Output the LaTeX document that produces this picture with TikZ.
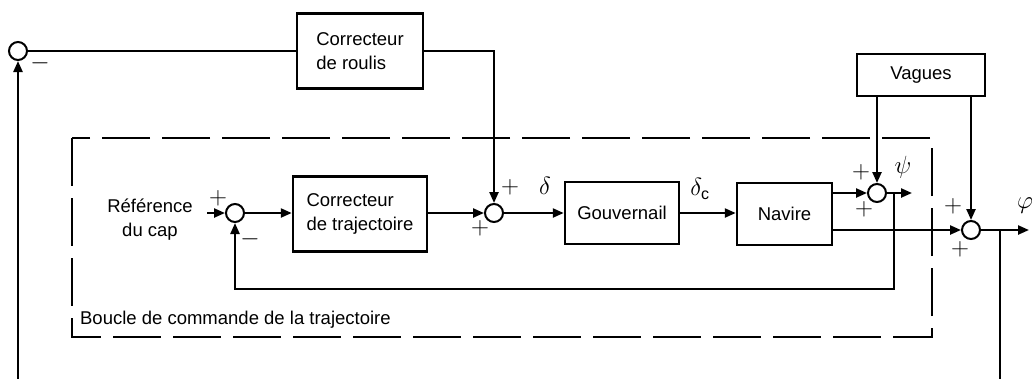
\documentclass[tikz,border=0pt]{standalone}
\usepackage{fontspec}
\setmainfont{Liberation Sans}
\usetikzlibrary{arrows.meta}
\begin{document}
\begin{tikzpicture}[x=1pt,y=-1pt,
  line width=2.3pt,
  >={Triangle[length=11pt,width=9pt]},
  blk/.style={draw, line width=2.5pt, inner sep=0pt, align=left, font=\fontsize{18.5}{24}\selectfont},
  sum/.style={draw, circle, line width=2pt, minimum size=18pt, inner sep=0pt},
  sgn/.style={font=\fontsize{23}{23}\selectfont, inner sep=0pt},
  lbl/.style={font=\fontsize{18.5}{24}\selectfont, inner sep=0pt, align=center},
  greek/.style={font=\fontsize{25}{25}\selectfont, inner sep=0pt},
  loopbox/.style={dash pattern=on 48pt off 12pt, line width=2.5pt}]
\useasboundingbox (0,0) rectangle (1032,378);

% dashed trajectory loop
\draw[loopbox] (72,138) rectangle (932,337);
\node[lbl, anchor=west] (boucle) at (79,320) {Boucle de commande de la trajectoire};

% blocks
\node[blk, minimum width=126pt, minimum height=75pt] (croulis) at (360,51) {Correcteur\\de roulis};
\node[blk, minimum width=134pt, minimum height=75pt] (ctraj) at (360,214) {Correcteur\\de trajectoire};
\node[blk, minimum width=114pt, minimum height=62pt] (gouv) at (622,213) {Gouvernail};
\node[blk, minimum width=95pt, minimum height=62pt] (navire) at (784.5,214) {Navire};
\node[blk, minimum width=128pt, minimum height=42pt] (vagues) at (921,75) {Vagues};

% summing junctions
\node[sum] (s0) at (18,51) {};
\node[sum] (s1) at (235,213) {};
\node[sum] (s2) at (494,213) {};
\node[sum] (s3) at (877,193) {};
\node[sum] (s4) at (971,230) {};

% signs
\node[sgn] (m0) at (40,63) {$-$};
\node[sgn] (p1) at (218,198) {$+$};
\node[sgn] (m1) at (250,239) {$-$};
\node[sgn] (p2a) at (510,187) {$+$};
\node[sgn] (p2b) at (480,228) {$+$};
\node[sgn] (p3a) at (861,172) {$+$};
\node[sgn] (p3b) at (864,209) {$+$};
\node[sgn] (p4a) at (953,206) {$+$};
\node[sgn] (p4b) at (960,249) {$+$};

% texts
\node[lbl] (ref) at (150,220) {Référence\\du cap};
\node[greek] (delta) at (545,186) {$\delta$};
\node[greek] (deltac) at (700,189) {$\delta_{\mbox{\fontsize{16}{16}\selectfont c}}$};
\node[greek] (psi) at (903,167) {$\psi$};
\node[greek, anchor=west] (phi) at (1016,206) {$\varphi$};

% coordinates
\coordinate (refin) at (207,213);
\coordinate (psiout) at (912,193);
\coordinate (fb) at (894,193);
\coordinate (fbc) at (235,289);
\coordinate (phiout) at (1029,230);
\coordinate (pb) at (1000,230);
\coordinate (pbot) at (1000,382);
\coordinate (lbot) at (18,382);

% connectors
\draw[->] (refin) -- (s1.west);
\draw[->] (s1.east) -- (ctraj.west |- s1);
\draw[->] (ctraj.east |- s2) -- (s2.west);
\draw[->] (s2.east) -- (gouv.west |- s2);
\draw[->] (gouv.east |- gouv) -- (navire.west |- gouv);
\draw[->] (navire.east |- s3) -- (s3.west);
\draw[->] (s3.east) -- (psiout);
\draw[->] (fb) -- (fb |- fbc) -- (s1 |- fbc) -- (s1.south);
\draw[->] (navire.east |- s4) -- (s4.west);
\draw[->] (s4.east) -- (phiout);
\draw (pb) -- (pbot);
\draw[->] (lbot) -- (s0.south);
\draw (s0.east) -- (croulis.west |- s0);
\draw[->] (croulis.east) -| (s2.north);
\draw[->] (vagues.south -| s3) -- (s3.north);
\draw[->] (vagues.south -| s4) -- (s4.north);
\end{tikzpicture}
\end{document}
